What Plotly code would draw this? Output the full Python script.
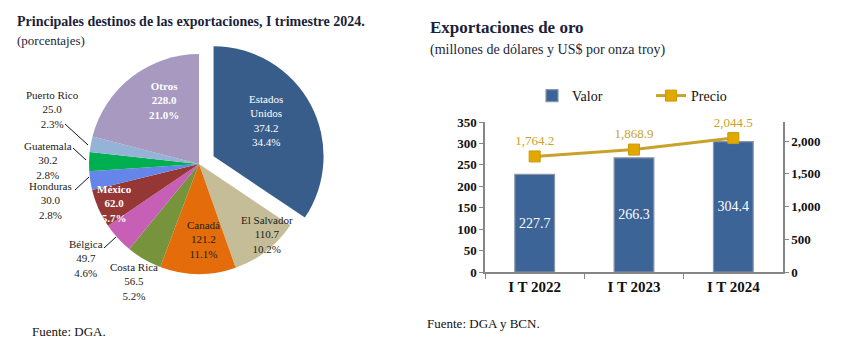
import plotly.graph_objects as go

W, H = 861, 353

# ---------------- data ----------------
pie_labels = ["Estados Unidos", "El Salvador", "Canadá", "Costa Rica", "Bélgica",
              "México", "Honduras", "Guatemala", "Puerto Rico", "Otros"]
pie_values = [374.2, 110.7, 121.2, 56.5, 49.7, 62.0, 30.0, 30.2, 25.0, 228.0]
pie_colors = ["#385D8A", "#C4BD97", "#E46C0A", "#77933C", "#C65FB5",
              "#953735", "#6685EA", "#00B050", "#95B3D7", "#A799BF"]
pie_pull = [0.15, 0, 0, 0, 0, 0, 0, 0, 0, 0]

bar_cats = ["I T 2022", "I T 2023", "I T 2024"]
valor = [227.7, 266.3, 304.4]
precio = [1764.2, 1868.9, 2044.5]

FONT = "Liberation Serif"
TXT = "#1B1F3B"


def px(x, y):
    return x / W, 1 - y / H


fig = go.Figure()

# ---------------- pie ----------------
R = 110
CX, CY = 199, 164
half = R * (1 + max(pie_pull))
fig.add_trace(go.Pie(
    labels=pie_labels, values=pie_values, sort=False, direction="clockwise",
    rotation=0, pull=pie_pull, textinfo="none", hoverinfo="label+value+percent",
    marker=dict(colors=pie_colors, line=dict(width=0)),
    domain=dict(x=[(CX - half) / W, (CX + half) / W], y=[1 - (CY + half) / H, 1 - (CY - half) / H]),
    showlegend=False,
))

total = sum(pie_values)

# label layout: (center x, center y, color, bold, split name)
label_layout = {
    "Estados Unidos": (266, 120, "white", False, ["Estados", "Unidos"]),
    "El Salvador": (267, 234, "#222222", False, None),
    "Canadá": (203, 239, "#222222", False, None),
    "Costa Rica": (134, 281, "#222222", False, None),
    "Bélgica": (86, 258, "#222222", False, None),
    "México": (114, 203, "white", True, None),
    "Honduras": (50, 201, "#222222", False, None),
    "Guatemala": (48, 161, "#222222", False, None),
    "Puerto Rico": (52, 110, "#222222", False, None),
    "Otros": (164, 100, "white", True, None),
}

annotations = []

for lab, val in zip(pie_labels, pie_values):
    cx, cy, col, bold, split = label_layout[lab]
    name_lines = split if split else [lab]
    lines = name_lines + [f"{val:.1f}", f"{val / total * 100:.1f}%"]
    if bold:
        lines = [f"<b>{ln}</b>" for ln in lines]
    xx, yy = px(cx, cy)
    annotations.append(dict(
        x=xx, y=yy, xref="paper", yref="paper", showarrow=False,
        text="<br>".join(lines), align="center",
        font=dict(family=FONT, size=11, color=col),
        xanchor="center", yanchor="middle", borderpad=0))

# leader lines
leaders = [((65, 124), (88, 145)), ((73, 148), (86, 160)),
           ((75, 190), (89, 177)), ((104, 248), (116, 237))]
shapes = []
for (x0, y0), (x1, y1) in leaders:
    a, b = px(x0, y0)
    c, d = px(x1, y1)
    shapes.append(dict(type="line", xref="paper", yref="paper", x0=a, y0=b, x1=c, y1=d,
                       line=dict(color="#111111", width=1)))

# ---------------- bars + line ----------------
fig.add_trace(go.Bar(
    x=bar_cats, y=valor, name="Valor", xaxis="x", yaxis="y",
    marker=dict(color="#3C6497", line=dict(color="#8A96A8", width=1.2)),
    text=[f"{v:.1f}" for v in valor], textposition="inside", insidetextanchor="middle",
    textfont=dict(family=FONT, size=14, color="white"), width=0.4,
))
fig.add_trace(go.Scatter(
    x=bar_cats, y=precio, name="Precio", xaxis="x", yaxis="y2",
    mode="lines+markers+text", cliponaxis=False,
    line=dict(color="#C9A22B", width=3),
    marker=dict(symbol="square", size=11, color="#E1A800", line=dict(color="#C99A10", width=1)),
    texttemplate="%{y:,.1f}", textposition="top center",
    textfont=dict(family=FONT, size=13, color="#C9A22B"),
))


# titles and sources
def add_text(x, y, text, size, color=TXT, bold=False):
    xx, yy = px(x, y)
    annotations.append(dict(x=xx, y=yy, xref="paper", yref="paper", showarrow=False,
                            text=f"<b>{text}</b>" if bold else text,
                            font=dict(family=FONT, size=size, color=color),
                            xanchor="left", yanchor="middle", borderpad=0))


add_text(16, 22, "Principales destinos de las exportaciones, I trimestre 2024.", 14, bold=True)
add_text(16, 40, "(porcentajes)", 13)
add_text(31, 331, "Fuente: DGA.", 13, color="#111111")
add_text(429, 28, "Exportaciones de oro", 17, bold=True)
add_text(429, 50, "(millones de dólares y US$ por onza troy)", 14)
add_text(426, 323, "Fuente: DGA y BCN.", 13, color="#111111")

axis_line = "#868686"
tickfont = dict(family=FONT, size=13, color="#111111", weight="bold")

fig.update_layout(
    width=W, height=H, margin=dict(l=0, r=0, t=0, b=0, autoexpand=False),
    paper_bgcolor="white", plot_bgcolor="white",
    annotations=annotations, shapes=shapes,
    bargap=0.6,
    xaxis=dict(domain=[485 / W, 783 / W], anchor="y", showline=True, linecolor=axis_line,
               linewidth=1.5, ticks="outside", tickson="boundaries", ticklen=5,
               tickcolor=axis_line, showgrid=False, automargin=False,
               tickfont=dict(family=FONT, size=15, color="#111111", weight="bold")),
    yaxis=dict(domain=[1 - 272 / H, 1 - 122 / H], range=[0, 350], dtick=50,
               showline=True, linecolor=axis_line, linewidth=1.5, ticks="outside",
               ticklen=4, tickcolor=axis_line, showgrid=False, zeroline=False,
               automargin=False, tickfont=tickfont),
    yaxis2=dict(overlaying="y", side="right", anchor="x", range=[0, 2290], dtick=500,
                tickformat=",", showline=True, linecolor=axis_line, linewidth=1.5,
                ticks="outside", ticklen=4, tickcolor=axis_line, showgrid=False,
                zeroline=False, automargin=False, tickfont=tickfont),
    legend=dict(orientation="h", x=532 / W, y=1 - 96 / H, xanchor="left", yanchor="middle",
                font=dict(family=FONT, size=14, color="#111111"), entrywidth=74,
                bgcolor="rgba(0,0,0,0)"),
)

fig.write_html("out.html")
